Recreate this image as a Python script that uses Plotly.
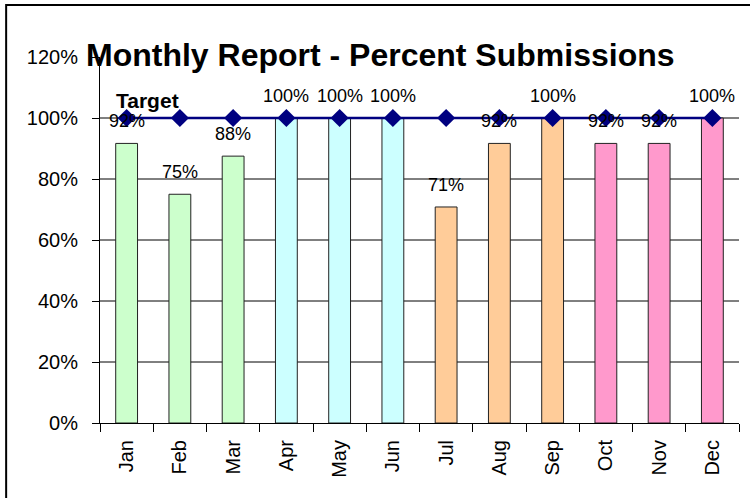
import plotly.graph_objects as go

months = ["Jan", "Feb", "Mar", "Apr", "May", "Jun", "Jul", "Aug", "Sep", "Oct", "Nov", "Dec"]
submissions = [0.9167, 0.75, 0.875, 1.0, 1.0, 1.0, 0.7083, 0.9167, 1.0, 0.9167, 0.9167, 1.0]
target = [1.0] * 12
y_ticks = [0, 0.2, 0.4, 0.6, 0.8, 1.0, 1.2]
grid_vals = [0.2, 0.4, 0.6, 0.8, 1.0]

q_colors = ["#CCFFCC"] * 3 + ["#CCFFFF"] * 3 + ["#FFCC99"] * 3 + ["#FF99CC"] * 3
FONT = "Liberation Sans, Arial, sans-serif"

fig = go.Figure()
fig.add_trace(go.Bar(
    x=months, y=submissions, width=0.41,
    marker=dict(color=q_colors, line=dict(color="#222222", width=1)),
    showlegend=False, hoverinfo="skip",
))
fig.add_trace(go.Scatter(
    x=months, y=target, mode="lines+markers",
    line=dict(color="#000080", width=2.5),
    marker=dict(symbol="diamond", size=14, color="#000080"),
    showlegend=False, hoverinfo="skip",
))

# data labels
for m, v in zip(months, submissions):
    fig.add_annotation(x=m, y=v, text=f"{round(v*100):.0f}%", showarrow=False,
                       yanchor="middle", xanchor="center", yshift=22,
                       font=dict(family=FONT, size=18, color="black"))

fig.add_annotation(x=months[0], y=target[0], text="<b>Target</b>", showarrow=False,
                   yanchor="middle", xanchor="center", xshift=21, yshift=18,
                   font=dict(family=FONT, size=21, color="black"))

fig.add_annotation(xref="paper", yref="paper", x=0.439, y=1.0,
                   text="<b>Monthly Report - Percent Submissions</b>", showarrow=False,
                   xanchor="center", yanchor="middle", yshift=2,
                   font=dict(family=FONT, size=32, color="black"))

for g in grid_vals:
    fig.add_shape(type="line", xref="paper", yref="y", x0=0, x1=1, y0=g, y1=g,
                  line=dict(color="black", width=1), layer="below")

# outer chart border
fig.add_shape(type="rect", xref="paper", yref="paper",
              x0=(6 - 100) / 640, x1=(770 - 100) / 640,
              y0=-(520 - 423) / 366, y1=(423 - 5) / 366,
              line=dict(color="black", width=2), fillcolor="rgba(0,0,0,0)")

fig.update_layout(
    width=750, height=498,
    margin=dict(l=100, r=11, t=57, b=75),
    paper_bgcolor="white", plot_bgcolor="white",
    font=dict(family=FONT, color="black"),
    bargap=0.59,
    xaxis=dict(type="category", tickson="boundaries", ticks="outside", ticklen=8,
               tickcolor="black", showline=True, linecolor="black", linewidth=1,
               tickangle=-90, tickfont=dict(size=20), range=[-0.5, 11.5],
               showgrid=False, zeroline=False, ticklabelstandoff=8),
    yaxis=dict(range=[0, 1.2], tickvals=y_ticks, tickformat=".0%", ticks="outside",
               ticklen=7, tickcolor="black", showline=True, linecolor="black",
               linewidth=1, showgrid=False, zeroline=False, tickfont=dict(size=20),
               ticklabelstandoff=10),
)

fig.write_html("out.html", config={"displayModeBar": False},
               post_script="document.body.style.margin='0';document.body.style.overflow='hidden';")
